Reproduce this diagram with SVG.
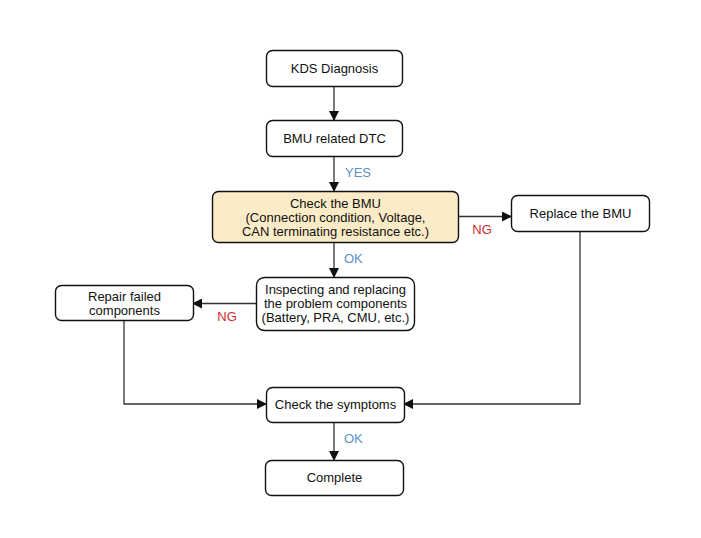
<svg xmlns="http://www.w3.org/2000/svg" width="701" height="538" viewBox="0 0 701 538">
<defs>
<style>
.box{fill:#fff;stroke:#111;stroke-width:1.4}
.hl{fill:#FBEBC6;stroke:#111;stroke-width:1.4}
text{font-family:"Liberation Sans",Arial,sans-serif;font-size:13px;fill:#111;text-anchor:middle}
.yes{fill:#5A90C6;text-anchor:start}
.ng{fill:#D42A2A}
.edge{fill:none;stroke:#333;stroke-width:1.3}
</style>
<marker id="ah" markerWidth="10" markerHeight="10" refX="9" refY="5" orient="auto" markerUnits="userSpaceOnUse">
<path d="M0,0 L10,5 L0,10 Z" fill="#111"/>
</marker>
</defs>
<rect width="701" height="538" fill="#fff"/>
<g id="connectors">
<line class="edge" x1="334" y1="87" x2="334" y2="120" marker-end="url(#ah)"/>
<line class="edge" x1="334" y1="157" x2="334" y2="191" marker-end="url(#ah)"/>
<line class="edge" x1="459" y1="216.5" x2="511" y2="216.5" marker-end="url(#ah)"/>
<line class="edge" x1="334" y1="242" x2="334" y2="277" marker-end="url(#ah)"/>
<line class="edge" x1="256" y1="303.5" x2="193" y2="303.5" marker-end="url(#ah)"/>
<polyline class="edge" points="124,321 124,404 266,404" marker-end="url(#ah)"/>
<polyline class="edge" points="580,231 580,404 404,404" marker-end="url(#ah)"/>
<line class="edge" x1="334" y1="423" x2="334" y2="460" marker-end="url(#ah)"/>
<text class="yes" x="345" y="177">YES</text>
<text class="ng" x="482" y="234">NG</text>
<text class="yes" x="344" y="263">OK</text>
<text class="ng" x="227" y="321">NG</text>
<text class="yes" x="344" y="443">OK</text>
</g>
<g id="kds">
<rect class="box" x="266.5" y="50.5" width="136" height="36" rx="6"/>
<text x="334.5" y="73">KDS Diagnosis</text>
</g>
<g id="dtc">
<rect class="box" x="266.5" y="120.5" width="136" height="36" rx="6"/>
<text x="334.5" y="143">BMU related DTC</text>
</g>
<g id="check-bmu">
<rect class="hl" x="212.5" y="191.5" width="246" height="51" rx="6"/>
<text x="335.5" y="208">Check the BMU</text>
<text x="335.5" y="222">(Connection condition, Voltage,</text>
<text x="335.5" y="236">CAN terminating resistance etc.)</text>
</g>
<g id="replace-bmu">
<rect class="box" x="511.5" y="195.5" width="138" height="36" rx="6"/>
<text x="580.5" y="218">Replace the BMU</text>
</g>
<g id="inspect">
<rect class="box" x="256.5" y="277.5" width="158" height="53" rx="8"/>
<text x="335.5" y="294">Inspecting and replacing</text>
<text x="335.5" y="308">the problem components</text>
<text x="335.5" y="322">(Battery, PRA, CMU, etc.)</text>
</g>
<g id="repair">
<rect class="box" x="55.5" y="285.5" width="138" height="35" rx="6"/>
<text x="124.5" y="301" font-size="12.5">Repair failed</text>
<text x="124.5" y="315" font-size="12.5">components</text>
</g>
<g id="symptoms">
<rect class="box" x="266.5" y="387.5" width="138" height="35" rx="6"/>
<text x="335.5" y="409">Check the symptoms</text>
</g>
<g id="complete">
<rect class="box" x="265.5" y="460.5" width="138" height="35" rx="6"/>
<text x="334.5" y="482">Complete</text>
</g>
</svg>
